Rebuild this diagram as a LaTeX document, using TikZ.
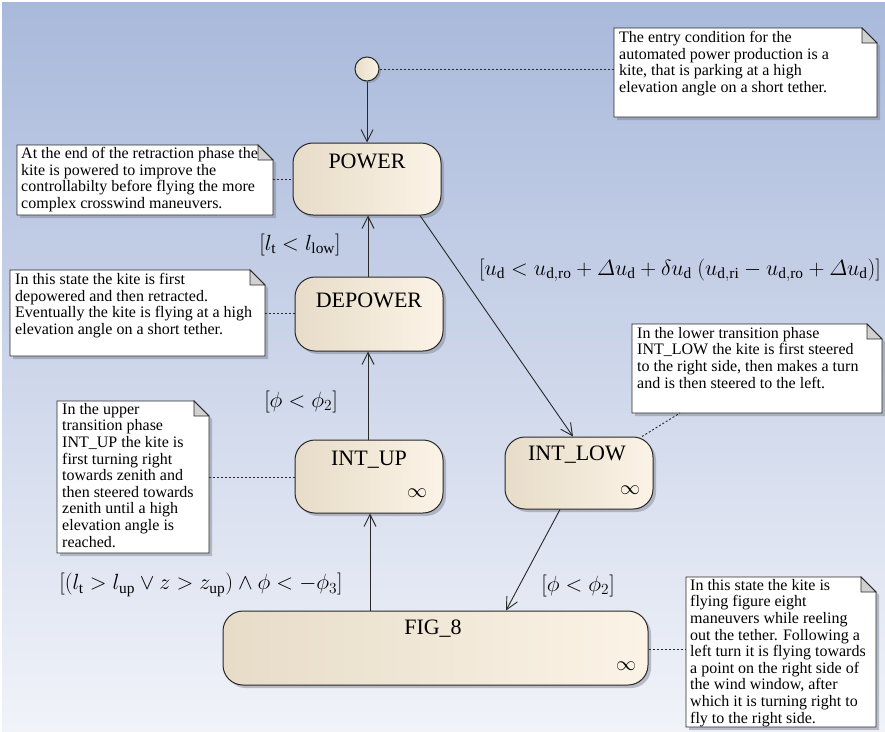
\RequirePackage{fix-cm}
\documentclass[tikz,border=0pt]{standalone}
\usepackage{amsmath}
\usepackage{fontspec}
\setmainfont{Liberation Serif}
\usetikzlibrary{arrows.meta,shadows,calc}
\definecolor{bgT}{RGB}{169,185,219}
\definecolor{bgB}{RGB}{241,243,249}
\definecolor{stL}{RGB}{231,220,200}
\definecolor{stR}{RGB}{251,243,230}
\definecolor{edge}{RGB}{40,40,40}
\definecolor{shd}{RGB}{120,125,140}
\tikzset{
  stbox/.style={draw=edge, line width=1pt, rounded corners=20pt, left color=stL, right color=stR,
    drop shadow={shadow xshift=3pt, shadow yshift=-3pt, fill=shd, opacity=0.45}},
  stname/.style={font=\fontsize{22}{26}\selectfont, inner sep=0pt},
  inf/.style={font=\fontsize{20}{24}\selectfont, inner sep=0pt},
  ntext/.style={font=\fontsize{16}{16.6}\selectfont, align=left, inner sep=0pt, anchor=north west},
  notefill/.style={fill=white, draw=edge, line width=0.8pt},
  notefold/.style={fill=black!18, draw=edge, line width=0.8pt},
  notesh/.style={fill=shd, opacity=0.45},
  trans/.style={draw=edge, line width=0.9pt, -{Straight Barb[length=12pt,width=12pt,line width=0.9pt]}},
  dots/.style={draw=edge, line width=0.9pt, dash pattern=on 2pt off 2pt},
  lbl/.style={font=\fontsize{22}{26}\selectfont, inner sep=0pt}
}
\newcommand{\dognote}[4]{%
  \fill[notesh] (#1+3,#2+3) -- (#3+3-15,#2+3) -- (#3+3,#2+3+15) -- (#3+3,#4+3) -- (#1+3,#4+3) -- cycle;
  \filldraw[notefill] (#1,#2) -- (#3-15,#2) -- (#3,#2+15) -- (#3,#4) -- (#1,#4) -- cycle;
  \filldraw[notefold] (#3-15,#2) -- (#3-15,#2+15) -- (#3,#2+15) -- cycle;
}
\begin{document}
\begin{tikzpicture}[x=1pt,y=-1pt]
\useasboundingbox (0,0) rectangle (885,731);
\fill[white] (0,0) rectangle (885,731);
\shade[top color=bgT, bottom color=bgB] (2,2) rectangle (885,731);

% ---- notes ----
\dognote{614}{28}{877}{117}
\node[ntext] (tEntry) at (619,31) {The entry condition for the\\automated power production is a\\kite, that is parking at a high\\elevation angle on a short tether.};
\coordinate (cEntry) at (614,69);

\dognote{17}{145}{273}{215}
\node[ntext] (tPower) at (21,147) {At the end of the retraction phase the\\kite is powered to improve the\\controllabilty before flying the more\\complex crosswind maneuvers.};
\coordinate (cPower) at (273,179);

\dognote{10}{270}{265}{356}
\node[ntext] (tDepower) at (15,273) {In this state the kite is first\\depowered and then retracted.\\Eventually the kite is flying at a high\\elevation angle on a short tether.};
\coordinate (cDepower) at (265,313);

\dognote{57}{401}{209}{553}
\node[ntext] (tIntUp) at (62,403) {In the upper\\transition phase\\INT\_UP the kite is\\first turning right\\towards zenith and\\then steered towards\\zenith until a high\\elevation angle is\\reached.};
\coordinate (cIntUp) at (209,477);

\dognote{632}{324}{882}{413}
\node[ntext] (tIntLow) at (637,327) {In the lower transition phase\\INT\_LOW the kite is first steered\\to the right side, then makes a turn\\and is then steered to the left.};
\coordinate (cIntLow) at (680,413);

\dognote{686}{577}{876}{727}
\node[ntext] (tFig) at (690,579) {In this state the kite is\\flying figure eight\\maneuvers while reeling\\out the tether. Following a\\left turn it is flying towards\\a point on the right side of\\the wind window, after\\which it is turning right to\\fly to the right side.};
\coordinate (cFig) at (686,649);

% ---- states ----
\node[circle, draw=edge, line width=1pt, left color=stL, right color=stR, minimum size=24pt, inner sep=0pt,
  drop shadow={shadow xshift=2pt, shadow yshift=-2pt, fill=shd, opacity=0.45}] (init) at (367,69) {};

\node[stbox, minimum width=148pt, minimum height=72pt] (power) at (367,179) {};
\node[stname] (powerT) at (367,161) {POWER};

\node[stbox, minimum width=148pt, minimum height=74pt] (depower) at (369,314) {};
\node[stname] (depowerT) at (369,300) {DEPOWER};

\node[stbox, minimum width=148pt, minimum height=73pt] (intup) at (369,476.5) {};
\node[stname] (intupT) at (369,460) {INT\_UP};
\node[inf] (intupI) at (417,493) {$\infty$};

\node[stbox, minimum width=148pt, minimum height=72pt] (intlow) at (579,473) {};
\node[stname] (intlowT) at (577,455) {INT\_LOW};
\node[inf] (intlowI) at (630,490) {$\infty$};

\node[stbox, minimum width=425pt, minimum height=74pt] (fig) at (435.5,648) {};
\node[stname] (figT) at (433,629) {FIG\_8};
\node[inf] (figI) at (626,666) {$\infty$};

% ---- note links ----
\draw[dots] (init.east) -- (cEntry);
\draw[dots] (cPower) -- (power.west |- cPower);
\draw[dots] (cDepower) -- (depower.west |- cDepower);
\draw[dots] (cIntUp) -- (intup.west |- cIntUp);
\draw[dots] ([xshift=63pt]intlow.north) -- (cIntLow);
\draw[dots] (fig.east |- cFig) -- (cFig);

% ---- transitions ----
\draw[trans] (init.south) -- (power.north);
\draw[trans] ([xshift=-1pt]depower.north) -- ([xshift=-1pt]depower.north |- power.south);
\draw[trans] ([xshift=-1pt]intup.north) -- ([xshift=-1pt]intup.north |- depower.south);
\draw[trans] ([xshift=1pt]intup.south |- fig.north) -- ([xshift=1pt]intup.south);
\draw[trans] ([xshift=53pt]power.south) -- ([xshift=-6pt]intlow.north);
\draw[trans] ([xshift=-19pt]intlow.south) -- ([xshift=70.5pt]fig.north);

% ---- guards ----
\node[lbl] (g1) at (300,245) {$[l_{\mathrm{t}} < l_{\mathrm{low}}]$};
\node[lbl] (g2) at (301,402) {$[\phi < \phi_{2}]$};
\node[lbl] (g3) at (680,270) {$[u_{\mathrm{d}} < u_{\mathrm{d,ro}} + \varDelta u_{\mathrm{d}} + \delta u_{\mathrm{d}}\ (u_{\mathrm{d,ri}} - u_{\mathrm{d,ro}} + \varDelta u_{\mathrm{d}})]$};
\node[lbl] (g4) at (578,586) {$[\phi < \phi_{2}]$};
\node[lbl] (g5) at (201,585) {$[(l_{\mathrm{t}} > l_{\mathrm{up}} \vee z > z_{\mathrm{up}}) \wedge \phi < -\phi_{3}]$};
\end{tikzpicture}
\end{document}
